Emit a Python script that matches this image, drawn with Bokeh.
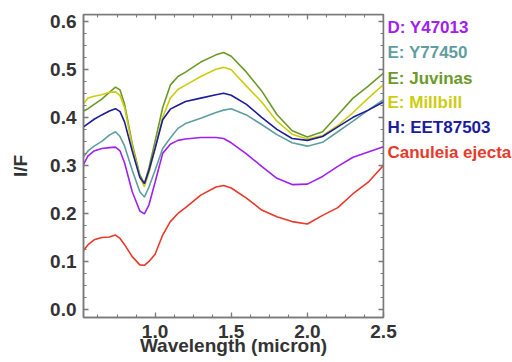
from bokeh.plotting import figure
from bokeh.layouts import row
from bokeh.models import Range1d, SingleIntervalTicker, LinearAxis, ColumnDataSource, CustomJSTickFormatter
from bokeh.core.properties import value
from bokeh.embed import file_html
from bokeh.resources import INLINE

wavelength = [0.53, 0.56, 0.6, 0.65, 0.7, 0.74, 0.77, 0.8, 0.85, 0.9, 0.93, 0.96, 1.0, 1.05, 1.1,
              1.15, 1.2, 1.3, 1.4, 1.45, 1.5, 1.6, 1.7, 1.8, 1.9, 2.0, 2.1, 2.2, 2.3, 2.4, 2.5]

y47013 = [0.302, 0.320, 0.330, 0.335, 0.337, 0.338, 0.330, 0.305, 0.245, 0.205, 0.199, 0.218, 0.265, 0.325, 0.344,
          0.352, 0.355, 0.358, 0.358, 0.356, 0.347, 0.324, 0.298, 0.273, 0.260, 0.261, 0.277, 0.298, 0.317, 0.328, 0.339]
y77450 = [0.318, 0.330, 0.340, 0.350, 0.363, 0.370, 0.360, 0.340, 0.290, 0.245, 0.234, 0.255, 0.290, 0.335, 0.357,
          0.377, 0.387, 0.398, 0.410, 0.415, 0.418, 0.405, 0.385, 0.364, 0.347, 0.340, 0.348, 0.370, 0.392, 0.415, 0.437]
juvinas = [0.413, 0.418, 0.427, 0.438, 0.452, 0.463, 0.457, 0.427, 0.345, 0.280, 0.262, 0.295, 0.350, 0.420, 0.467,
           0.485, 0.494, 0.515, 0.530, 0.535, 0.527, 0.494, 0.455, 0.406, 0.372, 0.359, 0.370, 0.405, 0.440, 0.465, 0.492]
millbill = [0.428, 0.440, 0.444, 0.447, 0.452, 0.453, 0.445, 0.420, 0.340, 0.275, 0.256, 0.285, 0.335, 0.400, 0.440,
            0.458, 0.467, 0.485, 0.500, 0.504, 0.499, 0.465, 0.432, 0.392, 0.365, 0.355, 0.362, 0.383, 0.410, 0.440, 0.468]
eet87503 = [0.380, 0.387, 0.396, 0.405, 0.413, 0.418, 0.412, 0.390, 0.330, 0.275, 0.262, 0.290, 0.335, 0.395, 0.417,
            0.425, 0.433, 0.440, 0.447, 0.450, 0.446, 0.427, 0.400, 0.375, 0.356, 0.352, 0.360, 0.380, 0.400, 0.415, 0.432]
canuleia = [0.123, 0.135, 0.145, 0.150, 0.151, 0.155, 0.148, 0.135, 0.110, 0.093, 0.092, 0.100, 0.115, 0.155, 0.183,
            0.200, 0.212, 0.238, 0.255, 0.258, 0.253, 0.232, 0.207, 0.193, 0.183, 0.178, 0.196, 0.212, 0.241, 0.265, 0.300]

labels = ["D: Y47013", "E: Y77450", "E: Juvinas", "E: Millbill", "H: EET87503", "Canuleia ejecta"]
series = [y47013, y77450, juvinas, millbill, eet87503, canuleia]
colors = ["#a020f0", "#5f9ea0", "#6b9a2a", "#cdcd10", "#1c1c9c", "#e8392a"]
x_title = "Wavelength (micron)"
y_title = "I/F"

FONT = "Liberation Sans"
TXT = "#333333"
AX = "#7a7a7a"
W, H = 512, 362
PW = 400

X0, X1 = 0.53, 2.5
Y0, Y1 = -0.0166, 0.614
yr = Range1d(Y0, Y1)
p = figure(width=PW, height=H, output_backend="svg", toolbar_location=None,
           x_range=Range1d(X0, X1), y_range=yr,
           min_border_left=83, min_border_right=17, min_border_top=14, min_border_bottom=45)
p.outline_line_color = AX
p.outline_line_width = 1.5
p.xgrid.visible = False
p.ygrid.visible = False

for ys, c in zip(series, colors):
    src = ColumnDataSource(dict(x=wavelength, y=ys))
    p.line("x", "y", source=src, line_color=c, line_width=1.6)

def style(ax, show_labels):
    ax.axis_line_color = AX
    ax.axis_line_width = 1.5
    ax.major_tick_line_color = AX
    ax.minor_tick_line_color = AX
    ax.major_tick_line_width = 1.3
    ax.minor_tick_line_width = 1.1
    ax.major_tick_in = 5
    ax.major_tick_out = 0
    ax.minor_tick_in = 3
    ax.minor_tick_out = 0
    if show_labels:
        ax.major_label_text_font = FONT
        ax.major_label_text_font_style = "bold"
        ax.major_label_text_font_size = "19px"
        ax.major_label_text_color = TXT
        ax.axis_label_text_font = FONT
        ax.axis_label_text_font_style = "bold"
        ax.axis_label_text_font_size = "19px"
        ax.axis_label_text_color = TXT
    else:
        ax.major_label_text_font_size = "0px"
        ax.major_label_text_color = None
        ax.major_label_standoff = 0

p.xaxis.ticker = SingleIntervalTicker(interval=0.5, num_minor_ticks=4)
p.yaxis.ticker = SingleIntervalTicker(interval=0.1, num_minor_ticks=4)
p.xaxis.axis_label = x_title
p.yaxis.axis_label = y_title
p.xaxis.major_label_standoff = 7
p.xaxis.axis_label_standoff = -6
p.yaxis.major_label_standoff = 7
p.yaxis.axis_label_standoff = 16
p.yaxis.formatter = CustomJSTickFormatter(code="return tick.toFixed(1);")
p.xaxis.formatter = CustomJSTickFormatter(code="return tick.toFixed(1);")
style(p.xaxis[0], True)
style(p.yaxis[0], True)

top = LinearAxis(ticker=SingleIntervalTicker(interval=0.5, num_minor_ticks=4), fixed_location=Y1)
right = LinearAxis(ticker=SingleIntervalTicker(interval=0.1, num_minor_ticks=4), fixed_location=X1)
style(top, False)
style(right, False)
p.add_layout(top, "above")
p.add_layout(right, "right")

# transparent overlay for the coloured legend texts; its frame lines up with p's frame,
# so it shares p's y scale
q = figure(width=W, height=H, output_backend="svg", toolbar_location=None,
           x_range=Range1d(0, W), y_range=yr, min_border=0)
q.axis.visible = False
q.grid.visible = False
q.outline_line_color = None
q.background_fill_color = None
q.border_fill_color = None
q.styles = {"margin-left": "-%dpx" % PW}

label_y = [0.586, 0.534, 0.481, 0.430, 0.378, 0.326]
lsrc = ColumnDataSource(dict(x=[387.0] * len(labels), y=label_y, t=labels, c=colors))
q.text("x", "y", text="t", text_color="c", source=lsrc, text_font=value(FONT),
       text_font_style="bold", text_font_size="17px", text_baseline="middle")

open("out.html", "w").write(file_html(row(p, q), INLINE))
